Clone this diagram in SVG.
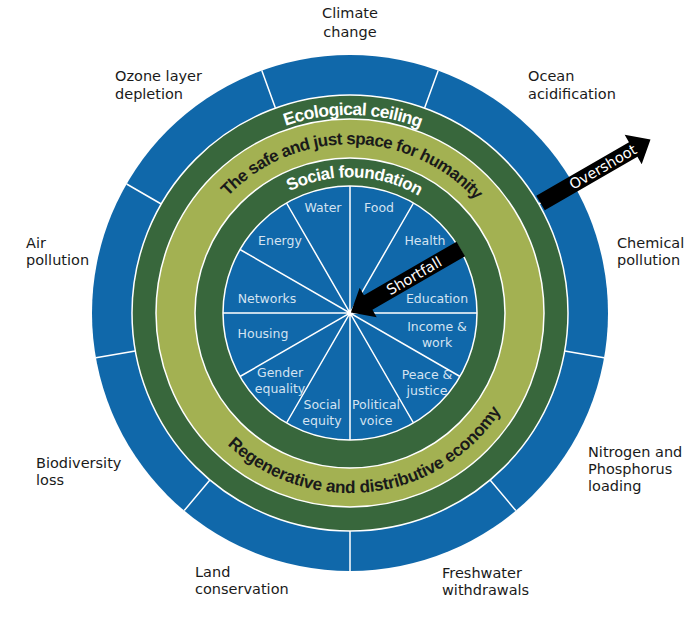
<svg xmlns="http://www.w3.org/2000/svg" width="700" height="617" viewBox="0 0 700 617">
<style>
.blue{fill:#1068aa}
.dg{fill:#38673c}
.lg{fill:#a3b152}
.ring{stroke:#ffffff;stroke-width:1.5}
.div{stroke:#ffffff;stroke-width:1.5;fill:none}
.lbl{font-family:"DejaVu Sans","Liberation Sans",sans-serif;font-size:14.5px;fill:#1a1a1a}
.in{font-family:"DejaVu Sans","Liberation Sans",sans-serif;font-size:12.5px;fill:#d4e3f1;text-anchor:middle}
.arc{font-family:"Liberation Sans","Arial",sans-serif;font-weight:bold}
.arrowtxt{font-family:"DejaVu Sans","Liberation Sans",sans-serif;font-size:14.5px;fill:#ffffff;text-anchor:middle}
</style>
<defs>
<path id="pEco" d="M155.0,278.6 A198,198 0 0 1 545.0,278.6"/>
<path id="pSafe" d="M183.6,283.7 A169,169 0 0 1 516.4,283.7"/>
<path id="pSoc" d="M216.1,289.4 A136,136 0 0 1 483.9,289.4"/>
<path id="pReg" d="M177.9,365.6 A180,180 0 0 0 529.8,322.4"/>
</defs>
<rect width="700" height="617" fill="#ffffff"/>

<g id="boundaries">
<circle class="blue" cx="350" cy="313" r="258"/>
<circle class="dg ring" cx="350" cy="313" r="218"/>
<circle class="lg ring" cx="350" cy="313" r="194"/>
<circle class="dg ring" cx="350" cy="313" r="155"/>
<circle class="blue ring" cx="350" cy="313" r="127"/>
<path class="div" d="M424.6,108.1 L438.2,70.6 M538.8,204.0 L573.4,184.0 M564.7,350.9 L604.1,357.8 M490.1,480.0 L515.8,510.6 M350,531 L350,571 M209.9,480.0 L184.2,510.6 M135.3,350.9 L95.9,357.8 M161.2,204.0 L126.6,184.0 M275.4,108.1 L261.8,70.6"/>
<path class="div" d="M350,186 L350,440 M413.5,203.0 L286.5,423.0 M460.0,249.5 L240.0,376.5 M477,313 L223,313 M460.0,376.5 L240.0,249.5 M413.5,423.0 L286.5,203.0"/>
</g>

<g id="ring-titles">
<text class="arc" font-size="17.5" letter-spacing="-0.6" fill="#ffffff"><textPath href="#pEco" startOffset="50.5%" text-anchor="middle">Ecological ceiling</textPath></text>
<text class="arc" font-size="17" letter-spacing="-0.6" fill="#1a1a1a"><textPath href="#pSafe" startOffset="50.5%" text-anchor="middle">The safe and just space for humanity</textPath></text>
<text class="arc" font-size="17" letter-spacing="-0.5" fill="#ffffff"><textPath href="#pSoc" startOffset="51.2%" text-anchor="middle">Social foundation</textPath></text>
<text class="arc" font-size="17.2" letter-spacing="-0.2" fill="#1a1a1a"><textPath href="#pReg" startOffset="50%" text-anchor="middle">Regenerative and distributive economy</textPath></text>
</g>

<g id="social-labels">
<text class="in" x="323" y="211.5">Water</text>
<text class="in" x="379" y="211.5">Food</text>
<text class="in" x="280" y="244.5">Energy</text>
<text class="in" x="425" y="244.5">Health</text>
<text class="in" x="267" y="302.5">Networks</text>
<text class="in" x="437" y="302.5">Education</text>
<text class="in" x="263" y="337.5">Housing</text>
<text class="in" x="437" y="331">Income &amp;</text>
<text class="in" x="437" y="347">work</text>
<text class="in" x="280" y="376.5">Gender</text>
<text class="in" x="280" y="392.5">equality</text>
<text class="in" x="427" y="378.5">Peace &amp;</text>
<text class="in" x="427" y="394.5">justice</text>
<text class="in" x="322" y="408.5">Social</text>
<text class="in" x="322" y="424.5">equity</text>
<text class="in" x="376" y="408.5">Political</text>
<text class="in" x="376" y="424.5">voice</text>
</g>

<g id="ecological-labels">
<text class="lbl" x="350" y="18" text-anchor="middle">Climate</text>
<text class="lbl" x="350" y="37" text-anchor="middle">change</text>
<text class="lbl" x="115" y="81">Ozone layer</text>
<text class="lbl" x="115" y="99">depletion</text>
<text class="lbl" x="528" y="81">Ocean</text>
<text class="lbl" x="528" y="99">acidification</text>
<text class="lbl" x="617" y="248">Chemical</text>
<text class="lbl" x="617" y="265">pollution</text>
<text class="lbl" x="26" y="248">Air</text>
<text class="lbl" x="26" y="265">pollution</text>
<text class="lbl" x="36" y="468">Biodiversity</text>
<text class="lbl" x="36" y="485">loss</text>
<text class="lbl" x="588" y="457">Nitrogen and</text>
<text class="lbl" x="588" y="474">Phosphorus</text>
<text class="lbl" x="588" y="491">loading</text>
<text class="lbl" x="195" y="577">Land</text>
<text class="lbl" x="195" y="594">conservation</text>
<text class="lbl" x="442" y="578">Freshwater</text>
<text class="lbl" x="442" y="595">withdrawals</text>
</g>

<g id="connectors">
<g id="overshoot" transform="translate(350,313) rotate(-30)">
<polygon points="220,-8.5 327,-8.5 327,-17 347,0 327,17 327,8.5 220,8.5" fill="#000000"/>
<text class="arrowtxt" x="292" y="5">Overshoot</text>
</g>
<g id="shortfall" transform="translate(350,313) rotate(-30)">
<polygon points="128,-8.5 21,-8.5 21,-17 1,0 21,17 21,8.5 128,8.5" fill="#000000"/>
<text class="arrowtxt" x="74" y="5">Shortfall</text>
</g>
</g>
</svg>
